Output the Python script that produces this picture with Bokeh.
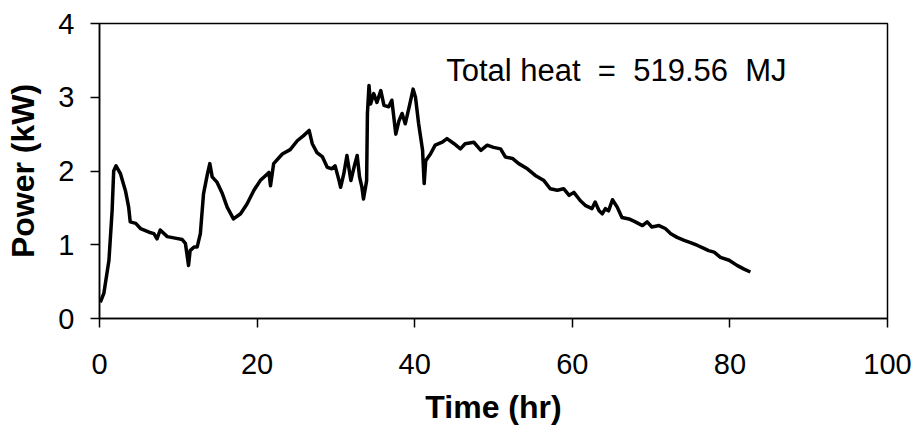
from bokeh.plotting import figure
from bokeh.models import Range1d, FixedTicker, Label, ColumnDataSource
from bokeh.embed import file_html
from bokeh.resources import INLINE

time_hr = [0.1, 0.55, 1.2, 1.6, 1.8, 2.1, 2.67, 3.3, 3.7, 3.9, 4.6, 5.2, 6.3, 6.9, 7.3, 7.7,
           8.6, 9.6, 10.5, 10.9, 11.3, 11.5, 12.0, 12.4, 12.8, 13.2, 13.7, 14.0, 14.3, 14.9,
           15.6, 16.2, 17.0, 17.9, 18.7, 19.6, 20.4, 21.5, 21.7, 22.1, 23.2, 24.2, 25.1, 25.9,
           26.6, 27.0, 27.6, 28.3, 28.9, 29.5, 29.9, 30.4, 30.6, 31.0, 31.4, 31.9, 32.3, 32.7,
           33.0, 33.3, 33.5, 33.9, 34.0, 34.2, 34.4, 34.8, 35.2, 35.7, 36.1, 36.7, 37.1, 37.6,
           38.0, 38.4, 38.8, 39.3, 39.8, 40.1, 40.5, 41.0, 41.2, 41.4, 42.0, 42.6, 43.5, 44.1,
           45.0, 45.8, 46.4, 47.5, 48.4, 49.2, 50.0, 50.9, 51.5, 52.4, 53.2, 54.3, 55.3, 56.4,
           57.2, 58.1, 58.9, 59.6, 60.2, 61.0, 61.7, 62.5, 62.9, 63.4, 63.8, 64.2, 64.6, 65.1,
           65.7, 66.3, 67.2, 68.0, 68.9, 69.5, 70.1, 71.0, 71.8, 72.5, 73.3, 74.2, 75.0, 75.9,
           76.7, 77.3, 78.0, 78.8, 79.9, 80.9, 81.8, 82.6]

power_kw = [0.22, 0.34, 0.79, 1.46, 2.0, 2.07, 1.96, 1.73, 1.51, 1.31, 1.29, 1.22, 1.17, 1.15, 1.08, 1.2,
            1.11, 1.09, 1.07, 1.02, 0.72, 0.92, 0.97, 0.97, 1.15, 1.69, 1.96, 2.10, 1.92, 1.85,
            1.69, 1.51, 1.35, 1.42, 1.55, 1.74, 1.87, 1.98, 1.80, 2.10, 2.23, 2.29, 2.41, 2.48,
            2.55, 2.37, 2.25, 2.19, 2.05, 2.03, 2.07, 1.87, 1.78, 1.96, 2.21, 1.87, 2.05, 2.21,
            1.92, 1.78, 1.62, 1.87, 2.78, 3.16, 2.91, 3.05, 2.93, 3.09, 2.89, 2.87, 2.96, 2.50,
            2.68, 2.78, 2.64, 2.87, 3.11, 3.0, 2.64, 2.28, 1.83, 2.14, 2.23, 2.35, 2.39, 2.44,
            2.37, 2.30, 2.37, 2.39, 2.28, 2.35, 2.32, 2.30, 2.19, 2.17, 2.10, 2.03, 1.94, 1.87,
            1.76, 1.74, 1.76, 1.67, 1.71, 1.60, 1.53, 1.49, 1.58, 1.46, 1.42, 1.49, 1.46, 1.61,
            1.51, 1.37, 1.35, 1.31, 1.26, 1.31, 1.24, 1.26, 1.22, 1.15, 1.10, 1.06, 1.03, 0.99,
            0.95, 0.92, 0.90, 0.83, 0.79, 0.72, 0.67, 0.63]

x_ticks = [0, 20, 40, 60, 80, 100]
y_ticks = [0, 1, 2, 3, 4]
annotation = "Total heat \u00a0=\u00a0 519.56 \u00a0MJ"
x_title = "Time (hr)"
y_title = "Power (kW)"

FONT = "Liberation Sans"

p = figure(width=915, height=437, output_backend="svg", toolbar_location=None,
           x_range=Range1d(0, 100), y_range=Range1d(0, 4),
           min_border_left=99, min_border_right=28, min_border_top=23, min_border_bottom=119)
p.background_fill_color = "white"
p.border_fill_color = "white"
p.xgrid.visible = False
p.ygrid.visible = False
p.outline_line_color = "black"
p.outline_line_width = 1.5
p.outline_line_alpha = 1.0

src = ColumnDataSource(dict(t=time_hr, pw=power_kw))
p.line("t", "pw", source=src, line_color="black", line_width=3.5, line_join="round")

for ax, ticks in ((p.xaxis[0], x_ticks), (p.yaxis[0], y_ticks)):
    ax.ticker = FixedTicker(ticks=ticks, minor_ticks=[])
    ax.axis_line_color = "black"
    ax.axis_line_width = 1.5
    ax.major_tick_line_color = "black"
    ax.major_tick_line_width = 1.5
    ax.major_tick_in = 0
    ax.major_tick_out = 9
    ax.minor_tick_line_color = None
    ax.major_label_text_font = FONT
    ax.major_label_text_font_size = "29px"
    ax.major_label_text_color = "black"
    ax.axis_label_text_font = FONT
    ax.axis_label_text_font_size = "32px"
    ax.axis_label_text_font_style = "bold"
    ax.axis_label_text_color = "black"

p.xaxis.axis_label = x_title
p.yaxis.axis_label = y_title
p.xaxis.major_label_standoff = 26
p.yaxis.major_label_standoff = 16
p.xaxis.axis_label_standoff = 12
p.yaxis.axis_label_standoff = 14

p.add_layout(Label(x=44.0, y=3.36, text=annotation, text_font=FONT, text_font_size="31px",
                   text_color="black", text_baseline="alphabetic"))

open("out.html", "w").write(file_html(p, INLINE))
